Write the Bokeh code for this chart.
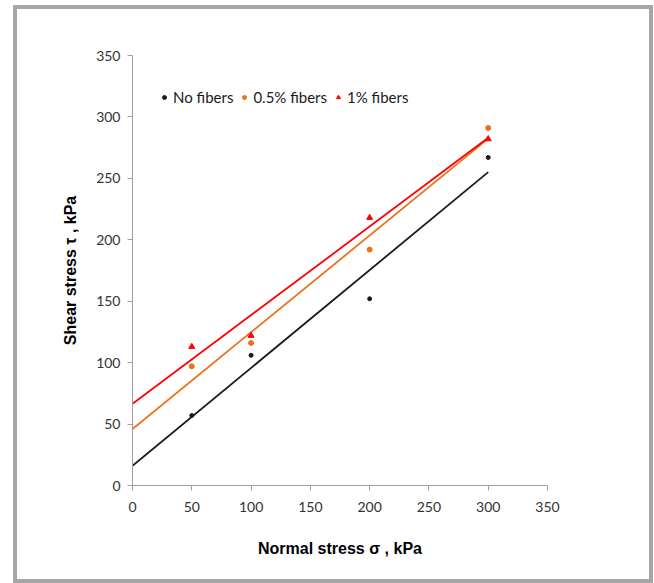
import numpy as np
from bokeh.plotting import figure
from bokeh.models import Range1d, FixedTicker, Legend, LegendItem
from bokeh.embed import file_html
from bokeh.resources import INLINE

normal_stress = [50, 100, 200, 300]
shear_no_fibers = [57, 106, 152, 267]
shear_05_fibers = [97, 116, 192, 291]
shear_1_fibers = [113, 122, 218, 282]
ticks = [0, 50, 100, 150, 200, 250, 300, 350]

p = figure(width=632, height=570, output_backend="svg", toolbar_location=None,
           x_range=Range1d(0, 350), y_range=Range1d(0, 350),
           min_border_left=115, min_border_right=102, min_border_top=46, min_border_bottom=94)
p.styles = {"margin-left": "17px", "margin-top": "9px", "outline": "4px solid #A6A6A8"}
p.outline_line_color = None
p.grid.visible = False

for ax in (p.xaxis[0], p.yaxis[0]):
    ax.ticker = FixedTicker(ticks=ticks)
    ax.axis_line_color = "#A0A0A0"
    ax.major_tick_line_color = "#A0A0A0"
    ax.major_tick_out = 5
    ax.major_tick_in = 0
    ax.minor_tick_line_color = None
    ax.major_label_text_font = "Lato"
    ax.major_label_text_font_size = "14px"
    ax.major_label_text_color = "#333333"
    ax.axis_label_text_font = "Liberation Sans"
    ax.axis_label_text_font_style = "bold"
    ax.axis_label_text_font_size = "16px"
    ax.axis_label_text_color = "#000000"

p.xaxis.axis_label = "Normal stress σ , kPa"
p.yaxis.axis_label = "Shear stress τ , kPa"
p.xaxis.major_label_standoff = 11
p.yaxis.major_label_standoff = 7
p.xaxis.axis_label_standoff = 25
p.yaxis.axis_label_standoff = 14

series = [
    ("No fibers", shear_no_fibers, "#1A1A1A", "circle", 4),
    ("0.5% fibers", shear_05_fibers, "#E8731E", "circle", 5),
    ("1% fibers", shear_1_fibers, "#FF0000", "triangle", 6),
]
items = []
xs = np.array(normal_stress, dtype=float)
for name, ys, color, marker, size in series:
    k, b = np.polyfit(xs, np.array(ys, dtype=float), 1)
    p.line([0, 300], [b, b + k * 300], line_color=color, line_width=1.8)
for name, ys, color, marker, size in series:
    r = p.scatter(normal_stress, ys, marker=marker, size=size, fill_color=color, line_color=color)
    items.append(LegendItem(label=name, renderers=[r]))

legend = Legend(items=items, orientation="horizontal", location=(27, 379),
                border_line_color=None, background_fill_alpha=0,
                label_text_font="Lato", label_text_font_size="15px", label_text_color="#1A1A1A",
                glyph_width=10, glyph_height=10, label_standoff=4, spacing=6, padding=4)
p.add_layout(legend)

open("out.html", "w").write(file_html(p, INLINE))
